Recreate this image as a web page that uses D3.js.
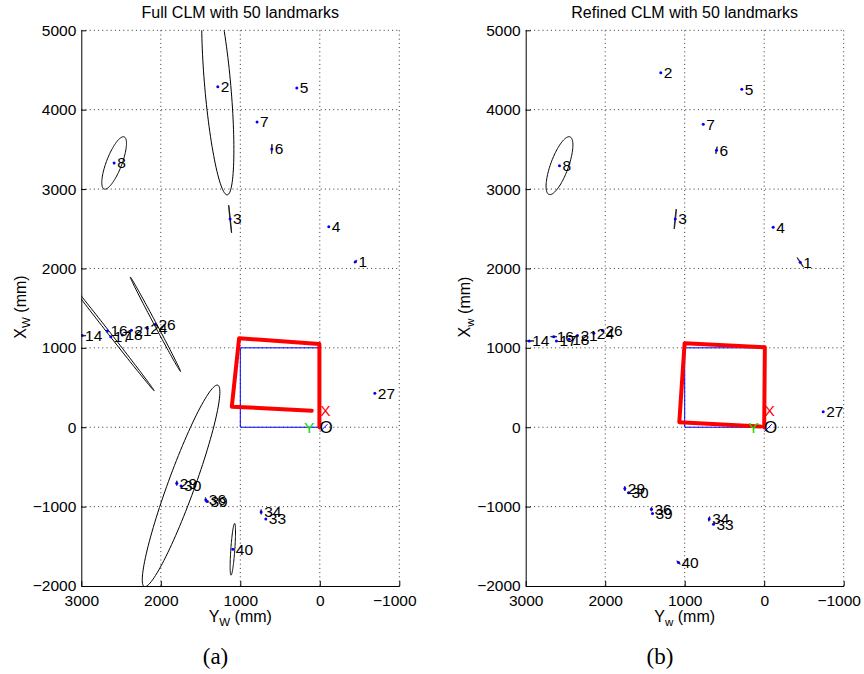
<!DOCTYPE html>
<html>
<head>
<meta charset="utf-8">
<script src="https://cdn.jsdelivr.net/npm/d3@7"></script>
<style>
  body { margin: 0; background: #fff; }
  text { font-family: "Liberation Sans", Arial, sans-serif; }
</style>
</head>
<body>
<svg id="chart" width="864" height="674"></svg>
<script>
// axis ticks (mm)
const xTicks = [3000, 2000, 1000, 0, -1000];
const yTicks = [-2000, -1000, 0, 1000, 2000, 3000, 4000, 5000];

// landmark ids that are labelled
const landmarkIds = [1, 2, 3, 4, 5, 6, 7, 8, 14, 16, 17, 18, 21, 24, 26, 27, 29, 30, 33, 34, 36, 39, 40];

// full CLM landmark estimates
const fullYw = [-448, 1283, 1128, -113, 289, 604, 789, 2587, 2990, 2672, 2629, 2483, 2370, 2172, 2068, -692, 1799, 1745, 679, 738, 1434, 1414, 1094];
const fullXw = [2086, 4290, 2623, 2526, 4273, 3505, 3845, 3329, 1154, 1213, 1141, 1162, 1221, 1247, 1297, 428, -705, -739, -1155, -1067, -916, -937, -1537];

// refined CLM landmark estimates
const refYw = [-453, 1301, 1119, -113, 282, 600, 767, 2575, 2956, 2647, 2613, 2453, 2349, 2143, 2034, -742, 1753, 1707, 638, 692, 1418, 1405, 1078];
const refXw = [2078, 4466, 2623, 2519, 4257, 3489, 3816, 3295, 1087, 1141, 1087, 1108, 1154, 1184, 1217, 196, -773, -824, -1222, -1155, -1033, -1088, -1705];

// uncertainty ellipses: landmark id, semi-axes (mm), orientation (deg)
const fullEllId = [2, 8, 3, 6, 1, 16, 26, 30, 40, 14, 29, 36, 34];
const fullEllA = [1368, 352, 175, 60, 25, 956, 674, 1350, 327, 50, 30, 30, 30];
const fullEllB = [164, 97, 3, 4, 4, 15, 15, 168, 25, 4, 4, 4, 4];
const fullEllAng = [85, 111, 84, 92, 135, 52, 62, 110, 94, 0, 90, 80, 90];

const refEllId = [8, 3, 6, 1, 14, 16, 29, 36, 34, 40];
const refEllA = [386, 126, 45, 70, 60, 40, 30, 25, 30, 30];
const refEllB = [112, 4, 4, 4, 4, 4, 4, 4, 4, 4];
const refEllAng = [110, 96, 100, 57, 0, 0, 90, 90, 100, 45];

// estimated robot trajectory
const fullPathYw = [5, 5, 1015, 1107, 101];
const fullPathXw = [0, 1049, 1121, 259, 209];
const refPathYw = [0, -8, 1001, 1068, 47];
const refPathXw = [0, 1008, 1058, 63, 8];

// ground truth square
const squareYw = [0, 1000, 1000, 0, 0];
const squareXw = [0, 0, 1000, 1000, 0];

const svg = d3.select("#chart");
const top0 = 30.3, bot0 = 586;

function ellipsePoints(cy, cx, a, b, angDeg) {
  const p = angDeg * Math.PI / 180;
  const pts = [];
  for (let i = 0; i <= 120; i++) {
    const t = i / 120 * 2 * Math.PI;
    const u = a * Math.cos(t), v = b * Math.sin(t);
    pts.push([cy + u * Math.cos(p) - v * Math.sin(p), cx + u * Math.sin(p) + v * Math.cos(p)]);
  }
  return pts;
}

function drawPanel(o) {
  const x = d3.scaleLinear().domain([3000, -1000]).range([o.left, o.right]);
  const y = d3.scaleLinear().domain([-2000, 5000]).range([bot0, top0]);
  const g = svg.append("g");

  svg.append("clipPath").attr("id", "clip" + o.key)
    .append("rect").attr("x", o.left).attr("y", top0)
    .attr("width", o.right - o.left).attr("height", bot0 - top0);

  // dotted grid
  g.selectAll(".gx").data(xTicks.filter(d => d !== 3000)).join("line")
    .attr("x1", d => x(d)).attr("x2", d => x(d)).attr("y1", top0).attr("y2", bot0)
    .attr("stroke", "#333").attr("stroke-dasharray", "1,3.2");
  g.selectAll(".gy").data(yTicks.filter(d => d !== -2000)).join("line")
    .attr("y1", d => y(d)).attr("y2", d => y(d)).attr("x1", o.left).attr("x2", o.right)
    .attr("stroke", "#333").attr("stroke-dasharray", "1,3.2");

  const plot = g.append("g").attr("clip-path", `url(#clip${o.key})`);
  const line = d3.line().x(p => x(p[0])).y(p => y(p[1]));

  // ground truth square
  plot.append("path").attr("d", line(squareYw.map((d, i) => [d, squareXw[i]])))
    .attr("fill", "none").attr("stroke", "#0000ff").attr("stroke-width", 1);

  // trajectory
  plot.append("path").attr("d", line(o.pathY.map((d, i) => [d, o.pathX[i]])))
    .attr("fill", "none").attr("stroke", "#ff0000").attr("stroke-width", 4)
    .attr("stroke-linejoin", "round").attr("stroke-linecap", "round");

  // ellipses
  o.ellId.forEach((id, k) => {
    const j = landmarkIds.indexOf(id);
    plot.append("path")
      .attr("d", line(ellipsePoints(o.ly[j], o.lx[j], o.ellA[k], o.ellB[k], o.ellAng[k])))
      .attr("fill", "none").attr("stroke", "#000").attr("stroke-width", 1);
  });

  // landmarks
  plot.selectAll(".lm").data(landmarkIds).join("circle")
    .attr("cx", (d, i) => x(o.ly[i])).attr("cy", (d, i) => y(o.lx[i]))
    .attr("r", 1.5).attr("fill", "#0000ff");
  plot.selectAll(".lb").data(landmarkIds).join("text")
    .attr("x", (d, i) => x(o.ly[i]) + 3).attr("y", (d, i) => y(o.lx[i]))
    .attr("dy", "0.35em").attr("font-size", 15.5).attr("fill", "#000").text(d => d);

  // world frame at origin
  plot.append("line").attr("x1", x(-4)).attr("y1", y(-55)).attr("x2", x(-96)).attr("y2", y(38))
    .attr("stroke", "#0000ff").attr("stroke-width", 1);
  plot.append("text").attr("x", x(-80)).attr("y", y(0)).attr("dy", "0.35em")
    .attr("text-anchor", "middle").attr("font-size", 17).attr("fill", "#000").text("O");
  plot.append("text").attr("x", x(-70)).attr("y", y(205)).attr("dy", "0.35em")
    .attr("text-anchor", "middle").attr("font-size", 15.5).attr("fill", "#ff0000").text("X");
  plot.append("text").attr("x", x(135)).attr("y", y(0)).attr("dy", "0.35em")
    .attr("text-anchor", "middle").attr("font-size", 15.5).attr("fill", "#00e000").text("Y");

  // axes
  const ax = g.append("g").attr("transform", `translate(0,${bot0})`)
    .call(d3.axisBottom(x).tickValues(xTicks).tickSizeInner(-5).tickSizeOuter(0).tickPadding(9).tickFormat(d3.format("d")));
  const ay = g.append("g").attr("transform", `translate(${o.left},0)`)
    .call(d3.axisLeft(y).tickValues(yTicks).tickSizeInner(-5).tickSizeOuter(0).tickPadding(5).tickFormat(d3.format("d")));
  [ax, ay].forEach(a => {
    a.attr("font-family", null).attr("font-size", null);
    a.selectAll("text").attr("font-size", 15.5).attr("fill", "#000");
    a.selectAll("line,path").attr("stroke", "#000");
  });
  ax.selectAll(".tick text").filter(d => d < 0).attr("dx", -5);

  // title
  g.append("text").attr("x", (o.left + o.right) / 2).attr("y", 18.3)
    .attr("text-anchor", "middle").attr("font-size", 16).text(o.title);

  // axis labels
  const yl = g.append("text").attr("text-anchor", "middle").attr("font-size", 16)
    .attr("transform", `translate(${o.ylabX},307) rotate(-90)`);
  yl.append("tspan").text("X");
  yl.append("tspan").attr("font-size", 11.5).attr("dy", 4).text(o.sub);
  yl.append("tspan").attr("dy", -4).text(" (mm)");

  const xl = g.append("text").attr("text-anchor", "middle").attr("font-size", 16)
    .attr("x", (o.left + o.right) / 2).attr("y", 621.7);
  xl.append("tspan").text("Y");
  xl.append("tspan").attr("font-size", 11.5).attr("dy", 4).text(o.sub);
  xl.append("tspan").attr("dy", -4).text(" (mm)");

  // caption
  svg.append("text").attr("x", o.capX).attr("y", 664).attr("text-anchor", "middle")
    .style("font-family", "'Liberation Serif', 'DejaVu Serif', serif").attr("font-size", 23)
    .text(o.caption);
}

drawPanel({
  key: "a", left: 81.3, right: 399.3, title: "Full CLM with 50 landmarks",
  ly: fullYw, lx: fullXw, ellId: fullEllId, ellA: fullEllA, ellB: fullEllB, ellAng: fullEllAng,
  pathY: fullPathYw, pathX: fullPathXw, sub: "W", ylabX: 26, capX: 215.5, caption: "(a)"
});
drawPanel({
  key: "b", left: 525.7, right: 843.7, title: "Refined CLM with 50 landmarks",
  ly: refYw, lx: refXw, ellId: refEllId, ellA: refEllA, ellB: refEllB, ellAng: refEllAng,
  pathY: refPathYw, pathX: refPathXw, sub: "w", ylabX: 470, capX: 660, caption: "(b)"
});
</script>
</body>
</html>
